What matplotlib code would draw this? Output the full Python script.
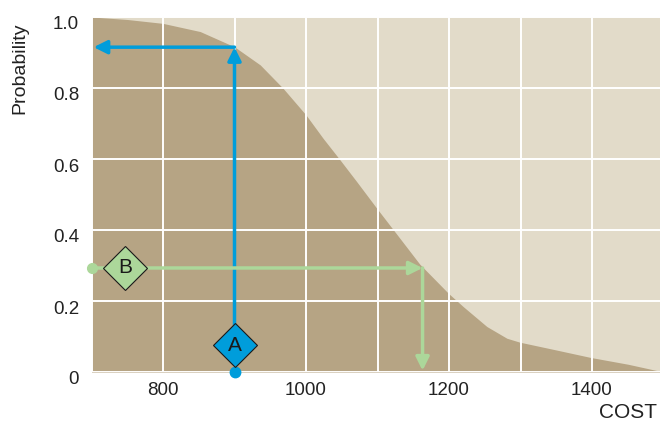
import numpy as np
import matplotlib.pyplot as plt
from matplotlib.transforms import ScaledTranslation

# curve
cost = [700, 750, 800, 852, 900, 936, 968, 1000, 1024, 1047, 1071, 1099, 1130,
        1159, 1199, 1220, 1253, 1281, 1299, 1350, 1398, 1450, 1500]
prob = [1.0, 0.993, 0.982, 0.959, 0.916, 0.865, 0.799, 0.724, 0.658, 0.599,
        0.536, 0.461, 0.38, 0.304, 0.222, 0.184, 0.128, 0.095, 0.084, 0.062,
        0.041, 0.022, 0.0]

xticks = [800, 1000, 1200, 1400]
yticks = [0, 0.2, 0.4, 0.6, 0.8, 1.0]
ytick_labels = ['0', '0.2', '0.4', '0.6', '0.8', '1.0']

# scenario A: given cost, read probability
a_cost = 900
a_prob = 0.915
# scenario B: given probability, read cost
b_prob = 0.293
b_cost = 1163

dark = '#b6a484'
light = '#e2dbc9'
blue = '#009ddb'
green = '#acd79a'

plt.rcParams['font.family'] = ['Liberation Sans', 'DejaVu Sans']

fig = plt.figure(figsize=(6.6, 4.21), dpi=100)
ax = fig.add_axes([91.5 / 660, 49 / 421, 572 / 660, 355 / 421])
ax.set_facecolor(light)
ax.fill_between(cost, prob, 0, color=dark, lw=0, zorder=1)
ax.set_xlim(700, 1500)
ax.set_ylim(0, 1.0)

ax.set_xticks(xticks)
ax.set_xticks(np.arange(700, 1501, 100), minor=True)
ax.set_yticks(yticks)
ax.set_yticklabels(ytick_labels)
ax.grid(True, which='both', color='white', lw=1.4, zorder=2)
ax.set_axisbelow(False)
for s in ax.spines.values():
    s.set_visible(False)
ax.tick_params(which='both', length=0, labelsize=13.5, colors='#222222')
ax.tick_params(axis='x', pad=7)
ax.tick_params(axis='y', pad=9)
off = ScaledTranslation(0, -6 / 100, fig.dpi_scale_trans)
for lab in ax.get_yticklabels():
    lab.set_transform(lab.get_transform() + off)

arr = dict(arrowstyle='-|>', lw=2.5, shrinkA=0, shrinkB=0, mutation_scale=20)

# blue path (A)
ax.annotate('', xy=(a_cost, a_prob), xytext=(a_cost, 0.08),
            arrowprops=dict(arr, color=blue), zorder=4)
ax.annotate('', xy=(703, a_prob), xytext=(a_cost, a_prob),
            arrowprops=dict(arr, color=blue), zorder=4)
ax.plot([a_cost], [0], 'o', color=blue, ms=7.5, clip_on=False, zorder=5)
ax.plot([a_cost], [0.076], 'D', ms=22, mfc=blue, mec='#1a1a1a', mew=0.8,
        clip_on=False, zorder=6)
ax.text(a_cost, 0.076, 'A', ha='center', va='center', fontsize=15,
        color='#1a1a1a', zorder=7)

# green path (B)
ax.annotate('', xy=(b_cost, b_prob), xytext=(700, b_prob),
            arrowprops=dict(arr, color=green), zorder=4)
ax.annotate('', xy=(b_cost, 0.004), xytext=(b_cost, b_prob),
            arrowprops=dict(arr, color=green), zorder=4)
ax.plot([700], [b_prob], 'o', color=green, ms=7, clip_on=False, zorder=5)
ax.plot([747], [b_prob], 'D', ms=22, mfc=green, mec='#1a1a1a', mew=0.8,
        clip_on=False, zorder=6)
ax.text(747, b_prob, 'B', ha='center', va='center', fontsize=15,
        color='#1a1a1a', zorder=7)

fig.text(20 / 660, 1 - 68 / 421, 'Probability', rotation=90, ha='center',
         va='center', fontsize=14, color='#222222')
fig.text(657 / 660, 1 - 413 / 421, 'COST', ha='right', va='center',
         fontsize=15, color='#222222')

fig.savefig('out.png', dpi=100)
